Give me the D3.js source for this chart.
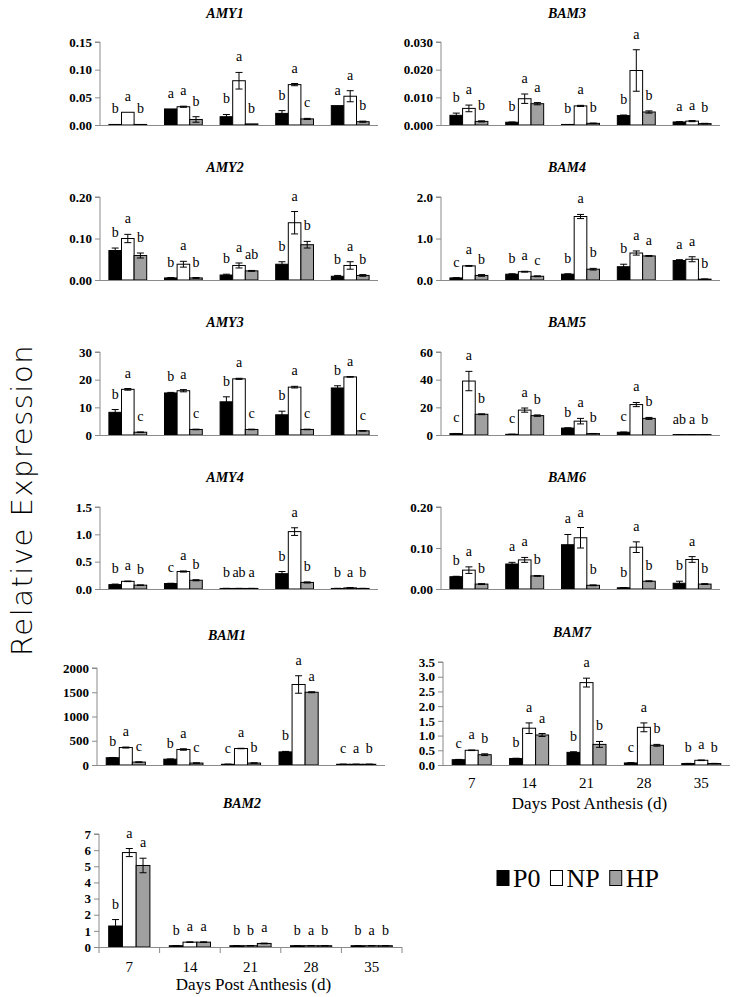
<!DOCTYPE html>
<html><head><meta charset="utf-8">
<script src="https://cdn.jsdelivr.net/npm/d3@7"></script>
<style>body{margin:0;background:#fff}svg{display:block}</style>
</head><body><svg id="c" width="737" height="997"></svg>
<script>
const days = ["7","14","21","28","35"];
const treatments = ["P0","NP","HP"];

// rows = days, columns = [P0, NP, HP]
const AMY1_mean = [[0.001,0.023,0.001],[0.029,0.033,0.010],[0.015,0.080,0.002],[0.021,0.073,0.011],[0.035,0.052,0.006]];
const AMY1_err  = [[0,0,0],[0,0.001,0.005],[0.004,0.015,0],[0.005,0.002,0.001],[0,0.010,0.001]];
const AMY1_sig  = [["b","a","b"],["a","a","b"],["b","a","b"],["b","a","c"],["a","a","b"]];
const AMY1_ticks = ["0.00","0.05","0.10","0.15"];

const BAM3_mean = [[0.0035,0.0060,0.0013],[0.0010,0.0095,0.0077],[0.0002,0.0069,0.0006],[0.0034,0.0197,0.0047],[0.0011,0.0014,0.0005]];
const BAM3_err  = [[0.0008,0.0012,0.0002],[0.0001,0.0017,0.0004],[0,0.0002,0.0001],[0.0002,0.0075,0.0004],[0.0001,0.0002,0.0001]];
const BAM3_sig  = [["b","a","b"],["b","a","a"],["b","a","b"],["b","a","b"],["a","a","b"]];
const BAM3_ticks = ["0.000","0.010","0.020","0.030"];

const AMY2_mean = [[0.071,0.100,0.059],[0.005,0.038,0.005],[0.012,0.035,0.022],[0.038,0.138,0.085],[0.009,0.035,0.011]];
const AMY2_err  = [[0.006,0.010,0.006],[0.001,0.007,0.001],[0.002,0.006,0.001],[0.006,0.027,0.008],[0.002,0.009,0.002]];
const AMY2_sig  = [["b","a","b"],["b","a","b"],["b","a","ab"],["b","a","b"],["b","a","b"]];
const AMY2_ticks = ["0.00","0.10","0.20"];

const BAM4_mean = [[0.05,0.34,0.11],[0.14,0.20,0.09],[0.14,1.53,0.26],[0.32,0.65,0.58],[0.47,0.50,0.02]];
const BAM4_err  = [[0.005,0.01,0.02],[0.01,0.01,0.01],[0.01,0.05,0.02],[0.06,0.05,0.01],[0.02,0.06,0.005]];
const BAM4_sig  = [["c","a","b"],["b","a","c"],["b","a","b"],["b","a","a"],["a","a","b"]];
const BAM4_ticks = ["0.0","1.0","2.0"];

const AMY3_mean = [[8.2,16.5,1.0],[15.2,16.0,2.0],[12.0,20.3,2.0],[7.3,17.3,2.0],[17.0,21.0,1.5]];
const AMY3_err  = [[1.0,0.3,0.1],[0.2,0.4,0.1],[1.8,0.2,0.1],[1.3,0.3,0.1],[0.8,0.1,0.1]];
const AMY3_sig  = [["b","a","c"],["b","a","c"],["b","a","c"],["b","a","c"],["b","a","c"]];
const AMY3_ticks = ["0","10","20","30"];

const BAM5_mean = [[1.0,39,15],[0.5,18,14],[5,10,1],[2,22,12],[0.3,0.3,0.3]];
const BAM5_err  = [[0.1,7,0.3],[0.1,1.5,0.5],[0.2,2,0.1],[0.1,1.5,0.7],[0.05,0.05,0.05]];
const BAM5_sig  = [["c","a","b"],["c","a","b"],["b","a","b"],["c","a","b"],["ab","a","b"]];
const BAM5_ticks = ["0","20","40","60"];

const AMY4_mean = [[0.08,0.14,0.07],[0.10,0.32,0.16],[0.01,0.01,0.01],[0.28,1.05,0.12],[0.01,0.02,0.01]];
const AMY4_err  = [[0.01,0.005,0.005],[0.005,0.01,0.01],[0.002,0.002,0.002],[0.04,0.07,0.01],[0.002,0.005,0.002]];
const AMY4_sig  = [["b","a","b"],["c","a","b"],["b","ab","a"],["b","a","b"],["b","a","b"]];
const AMY4_ticks = ["0.0","0.5","1.0","1.5"];

const BAM6_mean = [[0.030,0.046,0.012],[0.061,0.071,0.032],[0.108,0.125,0.009],[0.003,0.102,0.019],[0.014,0.072,0.012]];
const BAM6_err  = [[0.001,0.008,0.001],[0.004,0.006,0.001],[0.025,0.025,0.001],[0.0005,0.013,0.001],[0.005,0.007,0.001]];
const BAM6_sig  = [["b","a","b"],["a","a","b"],["a","a","b"],["b","a","b"],["b","a","b"]];
const BAM6_ticks = ["0.00","0.10","0.20"];

const BAM1_mean = [[150,360,60],[120,320,40],[15,340,40],[270,1660,1500],[15,15,15]];
const BAM1_err  = [[5,10,5],[5,15,5],[3,5,5],[10,180,10],[2,2,2]];
const BAM1_sig  = [["b","a","c"],["b","a","c"],["c","a","b"],["b","a","a"],["c","a","b"]];
const BAM1_ticks = ["0","500","1000","1500","2000"];

const BAM7_mean = [[0.18,0.50,0.35],[0.22,1.25,1.02],[0.43,2.80,0.70],[0.07,1.28,0.67],[0.05,0.16,0.05]];
const BAM7_err  = [[0.01,0.01,0.03],[0.01,0.18,0.05],[0.02,0.15,0.10],[0.01,0.15,0.03],[0.005,0.01,0.005]];
const BAM7_sig  = [["c","a","b"],["b","a","a"],["b","a","b"],["c","a","b"],["b","a","b"]];
const BAM7_ticks = ["0.0","0.5","1.0","1.5","2.0","2.5","3.0","3.5"];

const BAM2_mean = [[1.3,5.85,5.05],[0.08,0.30,0.30],[0.08,0.08,0.22],[0.08,0.08,0.08],[0.08,0.08,0.08]];
const BAM2_err  = [[0.4,0.25,0.45],[0.01,0.02,0.02],[0.01,0.01,0.02],[0.01,0.01,0.01],[0.01,0.01,0.01]];
const BAM2_sig  = [["b","a","a"],["b","a","a"],["b","b","a"],["b","a","b"],["b","a","b"]];
const BAM2_ticks = ["0","1","2","3","4","5","6","7"];

const xTitle = "Days Post Anthesis (d)";
const yTitle = "Relative Expression";

// ---------- layout ----------
const colL = [100, 378], colR = [441, 720];
const rowY = [[13,42,125],[167,197,280],[322,352,435],[477,507,589]];
const panels = [
  {g:"AMY1", m:AMY1_mean, e:AMY1_err, s:AMY1_sig, t:AMY1_ticks, x:colL, y:rowY[0], tx:225},
  {g:"BAM3", m:BAM3_mean, e:BAM3_err, s:BAM3_sig, t:BAM3_ticks, x:colR, y:rowY[0], tx:567},
  {g:"AMY2", m:AMY2_mean, e:AMY2_err, s:AMY2_sig, t:AMY2_ticks, x:colL, y:rowY[1], tx:225},
  {g:"BAM4", m:BAM4_mean, e:BAM4_err, s:BAM4_sig, t:BAM4_ticks, x:colR, y:rowY[1], tx:567},
  {g:"AMY3", m:AMY3_mean, e:AMY3_err, s:AMY3_sig, t:AMY3_ticks, x:colL, y:rowY[2], tx:225},
  {g:"BAM5", m:BAM5_mean, e:BAM5_err, s:BAM5_sig, t:BAM5_ticks, x:colR, y:rowY[2], tx:567},
  {g:"AMY4", m:AMY4_mean, e:AMY4_err, s:AMY4_sig, t:AMY4_ticks, x:colL, y:rowY[3], tx:225},
  {g:"BAM6", m:BAM6_mean, e:BAM6_err, s:BAM6_sig, t:BAM6_ticks, x:colR, y:rowY[3], tx:567},
  {g:"BAM1", m:BAM1_mean, e:BAM1_err, s:BAM1_sig, t:BAM1_ticks, x:[97,385], y:[635,668,765], tx:227},
  {g:"BAM7", m:BAM7_mean, e:BAM7_err, s:BAM7_sig, t:BAM7_ticks, x:[443,730], y:[632,662,765], tx:572, labels:[783,803]},
  {g:"BAM2", m:BAM2_mean, e:BAM2_err, s:BAM2_sig, t:BAM2_ticks, x:[99,402], y:[803,834,947], tx:242, labels:[967,984], ticks:true}
];

const fills = {P0:"#000000", NP:"#ffffff", HP:"#a0a0a0"};
const axisColor = "#8a8a8a";
const serif = "Liberation Serif, DejaVu Serif, serif";

const svg = d3.select("#c");

panels.forEach(p => {
  const g = svg.append("g");
  const tickVals = p.t.map(Number);
  const y = d3.scaleLinear().domain([0, d3.max(tickVals)]).range([p.y[2], p.y[1]]);
  const x = d3.scaleBand().domain(days).range(p.x).paddingInner(0.32).paddingOuter(0.16);
  const xs = d3.scaleBand().domain(treatments).range([0, x.bandwidth()]);
  const step = x.step();

  // title
  g.append("text").attr("x", p.tx).attr("y", p.y[0] + 5)
    .attr("text-anchor","middle").style("font-family", serif)
    .attr("font-weight","bold").attr("font-style","italic").attr("font-size", 14)
    .text(p.g);

  // y axis
  const ya = d3.axisLeft(y).tickValues(tickVals).tickSize(5).tickPadding(3)
    .tickFormat((d,i) => p.t[i]);
  const yg = g.append("g").attr("transform", `translate(${p.x[0]},0)`).call(ya);
  yg.select(".domain").attr("stroke", axisColor).attr("d", `M-5,${p.y[1]}H0V${p.y[2]}`);
  yg.selectAll(".tick line").attr("stroke", axisColor);
  yg.selectAll(".tick text").style("font-family", serif).attr("font-weight","bold")
    .attr("font-size", 13).attr("fill","#000");

  // bars
  const data = [];
  days.forEach((d, i) => treatments.forEach((t, j) => {
    data.push({day:d, tr:t, v:p.m[i][j], e:p.e[i][j], s:p.s[i][j]});
  }));
  g.selectAll("rect.bar").data(data).join("rect").attr("class","bar")
    .attr("x", d => x(d.day) + xs(d.tr))
    .attr("width", xs.bandwidth())
    .attr("y", d => y(d.v))
    .attr("height", d => Math.max(0.8, y(0) - y(d.v)))
    .attr("fill", d => fills[d.tr])
    .attr("stroke", "#000").attr("stroke-width", 1);

  // error bars
  const eb = g.selectAll("g.eb").data(data.filter(d => d.e > 0)).join("g").attr("class","eb")
    .attr("stroke","#000").attr("stroke-width",1);
  eb.append("line")
    .attr("x1", d => x(d.day) + xs(d.tr) + xs.bandwidth()/2)
    .attr("x2", d => x(d.day) + xs(d.tr) + xs.bandwidth()/2)
    .attr("y1", d => y(d.v + d.e)).attr("y2", d => y(Math.max(0, d.v - d.e)));
  [1, -1].forEach(sgn => {
    eb.append("line")
      .attr("x1", d => x(d.day) + xs(d.tr) + xs.bandwidth()/2 - 3.5)
      .attr("x2", d => x(d.day) + xs(d.tr) + xs.bandwidth()/2 + 3.5)
      .attr("y1", d => y(Math.max(0, d.v + sgn*d.e)))
      .attr("y2", d => y(Math.max(0, d.v + sgn*d.e)));
  });

  // significance letters
  g.selectAll("text.sig").data(data).join("text").attr("class","sig")
    .attr("x", d => x(d.day) + xs(d.tr) + xs.bandwidth()/2)
    .attr("y", d => y(d.v + d.e) - 11)
    .attr("text-anchor","middle").style("font-family", serif).attr("font-size", 14)
    .text(d => d.s);

  // x axis
  g.append("line").attr("x1", p.x[0]).attr("x2", p.x[1])
    .attr("y1", p.y[2] + 0.5).attr("y2", p.y[2] + 0.5).attr("stroke", axisColor);
  if (p.ticks) {
    g.selectAll("line.xt").data(d3.range(days.length + 1)).join("line").attr("class","xt")
      .attr("x1", i => p.x[0] + i*step).attr("x2", i => p.x[0] + i*step)
      .attr("y1", p.y[2]).attr("y2", p.y[2] + 6).attr("stroke", axisColor);
  }
  if (p.labels) {
    g.selectAll("text.xl").data(days).join("text").attr("class","xl")
      .attr("x", d => x(d) + x.bandwidth()/2).attr("y", p.labels[0] + 5)
      .attr("text-anchor","middle").style("font-family", serif).attr("font-size", 15)
      .text(d => d);
    g.append("text").attr("x", (p.x[0] + p.x[1]) / 2 + 3).attr("y", p.labels[1] + 6)
      .attr("text-anchor","middle").style("font-family", serif).attr("font-size", 17)
      .text(xTitle);
  }
});

// y title
svg.append("text").attr("transform","translate(32,500) rotate(-90)")
  .attr("text-anchor","middle").style("font-family","DejaVu Sans, sans-serif")
  .attr("font-weight", 200).attr("font-size", 29).attr("letter-spacing", 1.5)
  .text(yTitle);

// legend
const lg = svg.append("g").attr("transform","translate(497,878)");
let lx = 0;
treatments.forEach(t => {
  lg.append("rect").attr("x", lx).attr("y", -7.5).attr("width", 12).attr("height", 15)
    .attr("fill", fills[t]).attr("stroke","#000");
  const tx = lg.append("text").attr("x", lx + 16).attr("y", 9)
    .style("font-family", serif).attr("font-size", 26).text(t);
  lx += 16 + tx.node().getComputedTextLength() + 10;
});
</script>
</body></html>
